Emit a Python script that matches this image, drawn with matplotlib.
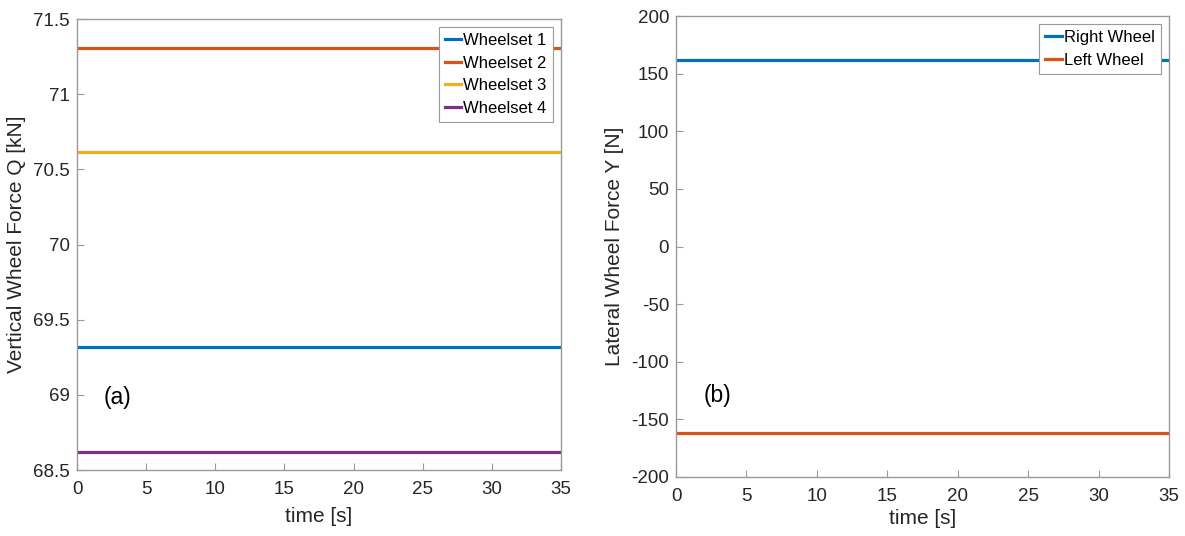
import matplotlib
matplotlib.use("Agg")
import matplotlib.pyplot as plt

plt.rcParams['font.family'] = ['Liberation Sans', 'DejaVu Sans']
plt.rcParams['axes.unicode_minus'] = False

# data
time = [0, 35]
wheelsets = ['Wheelset 1', 'Wheelset 2', 'Wheelset 3', 'Wheelset 4']
vertical_Q = [69.32, 71.31, 70.615, 68.62]
wheels = ['Right Wheel', 'Left Wheel']
lateral_Y = [161.5, -161.8]

x_ticks = [0, 5, 10, 15, 20, 25, 30, 35]
q_ticks = [68.5, 69, 69.5, 70, 70.5, 71, 71.5]
y_ticks = [-200, -150, -100, -50, 0, 50, 100, 150, 200]

colors = ['#0072BD', '#D95319', '#EDB120', '#7E2F8E']
text_color = '#262626'
edge_color = '#999999'

fig = plt.figure(figsize=(11.85, 5.36), dpi=100)
ax1 = fig.add_axes([0.065, 0.1231, 0.4084, 0.8414])
ax2 = fig.add_axes([0.5705, 0.1101, 0.416, 0.86])


def style_axes(ax):
    for s in ax.spines.values():
        s.set_color(edge_color)
        s.set_linewidth(1.0)
    ax.tick_params(direction='in', length=5, width=0.8, color=edge_color,
                   labelcolor=text_color, labelsize=13.5, top=False, right=False)
    ax.tick_params(axis='x', pad=8)
    ax.tick_params(axis='y', pad=5)


def add_legend(ax):
    leg = ax.legend(loc='upper right', fontsize=12, frameon=True, fancybox=False,
                    framealpha=1, edgecolor=edge_color, handlelength=1.0,
                    handletextpad=0.12, labelspacing=0.45, borderpad=0.35,
                    borderaxespad=0.5)
    leg.get_frame().set_linewidth(0.8)
    return leg


# (a) vertical wheel force
for name, q, c in zip(wheelsets, vertical_Q, colors):
    ax1.plot(time, [q, q], color=c, lw=2.3, label=name)
ax1.set_xlim(0, 35)
ax1.set_ylim(68.5, 71.5)
ax1.set_xticks(x_ticks)
ax1.set_yticks(q_ticks)
ax1.set_yticklabels([f"{v:g}" for v in q_ticks])
style_axes(ax1)
ax1.set_xlabel('time [s]', fontsize=15, color=text_color)
ax1.set_ylabel('Vertical Wheel Force Q [kN]', fontsize=15, color=text_color)
ax1.yaxis.set_label_coords(-0.105, 0.5)
ax1.xaxis.set_label_coords(0.5, -0.082)
ax1.text(2.96, 68.985, '(a)', fontsize=16.5, color='black', ha='center', va='center')
add_legend(ax1)

# (b) lateral wheel force
for name, y, c in zip(wheels, lateral_Y, colors):
    ax2.plot(time, [y, y], color=c, lw=2.3, label=name)
ax2.set_xlim(0, 35)
ax2.set_ylim(-200, 200)
ax2.set_xticks(x_ticks)
ax2.set_yticks(y_ticks)
style_axes(ax2)
ax2.set_xlabel('time [s]', fontsize=15, color=text_color)
ax2.set_ylabel('Lateral Wheel Force Y [N]', fontsize=15, color=text_color)
ax2.yaxis.set_label_coords(-0.105, 0.5)
ax2.xaxis.set_label_coords(0.5, -0.07)
ax2.text(2.91, -128.9, '(b)', fontsize=16.5, color='black', ha='center', va='center')
add_legend(ax2)

fig.savefig('out.png', dpi=100)
